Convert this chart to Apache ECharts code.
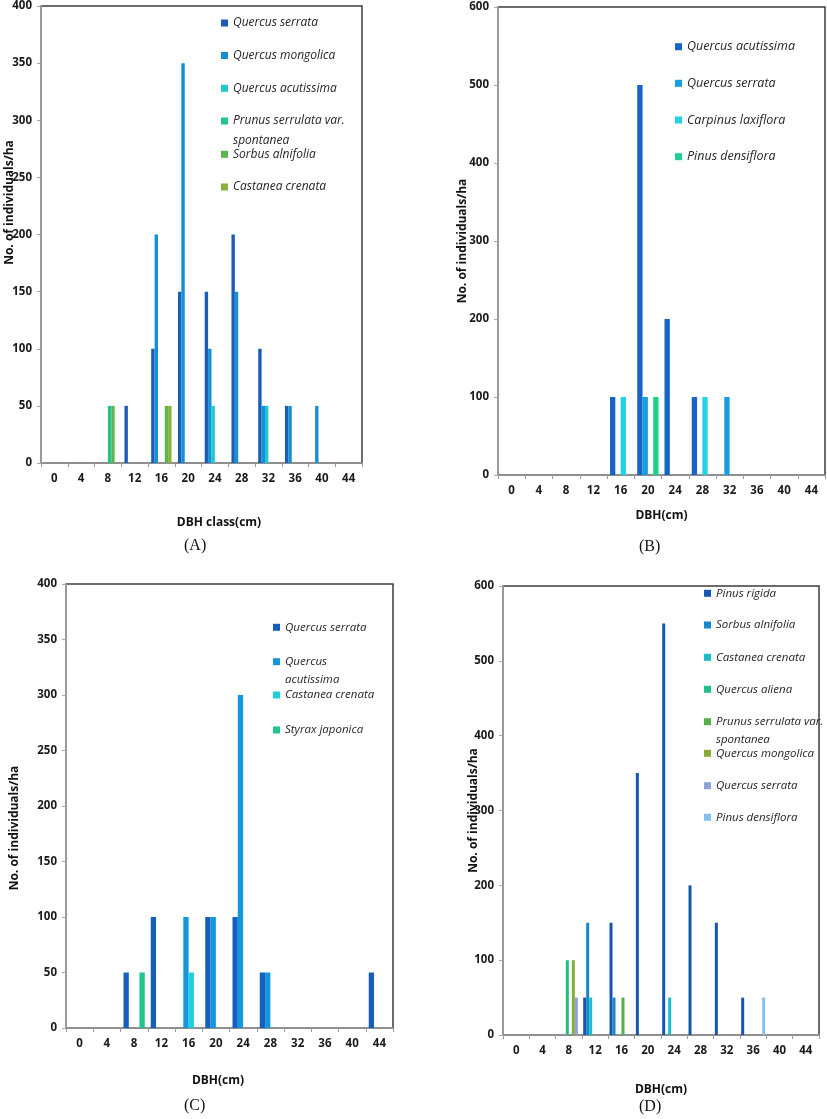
<!DOCTYPE html>
<html>
<head>
<meta charset="utf-8">
<script src="https://cdn.jsdelivr.net/npm/echarts@6/dist/echarts.min.js"></script>
<style>
  html, body { margin: 0; padding: 0; background: #fff; }
  #chart { width: 827px; height: 1119px; }
</style>
</head>
<body>
<div id="chart"></div>
<script>
// ---- data ----
const dbhClasses = ['0','4','8','12','16','20','24','28','32','36','40','44'];

// Panel A
const speciesA = ['Quercus serrata','Quercus mongolica','Quercus acutissima','Prunus serrulata var. spontanea','Sorbus alnifolia','Castanea crenata'];
const labelsA  = ['Quercus serrata','Quercus mongolica','Quercus acutissima','Prunus serrulata var.\nspontanea','Sorbus alnifolia','Castanea crenata'];
const valuesA = [
  [0,0,0,50,100,150,150,200,100,50,0,0],
  [0,0,0,0,200,350,100,150,50,50,50,0],
  [0,0,0,0,0,0,50,0,50,0,0,0],
  [0,0,50,0,0,0,0,0,0,0,0,0],
  [0,0,50,0,50,0,0,0,0,0,0,0],
  [0,0,0,0,50,0,0,0,0,0,0,0]
];
const colorsA = ['#1a5cb8','#1590d4','#1ec6d6','#22c48a','#5db54e','#8cae3a'];

// Panel B
const speciesB = ['Quercus acutissima','Quercus serrata','Carpinus laxiflora','Pinus densiflora'];
const labelsB  = speciesB;
const valuesB = [
  [0,0,0,0,100,500,200,100,0,0,0,0],
  [0,0,0,0,0,100,0,0,100,0,0,0],
  [0,0,0,0,100,0,0,100,0,0,0,0],
  [0,0,0,0,0,100,0,0,0,0,0,0]
];
const colorsB = ['#1564c6','#179ee0','#20d2e2','#1ed08e'];

// Panel C
const speciesC = ['Quercus serrata','Quercus acutissima','Castanea crenata','Styrax japonica'];
const labelsC  = ['Quercus serrata','Quercus\nacutissima','Castanea crenata','Styrax japonica'];
const valuesC = [
  [0,0,50,100,0,100,100,50,0,0,0,50],
  [0,0,0,0,100,100,300,50,0,0,0,0],
  [0,0,0,0,50,0,0,0,0,0,0,0],
  [0,0,50,0,0,0,0,0,0,0,0,0]
];
const colorsC = ['#1560be','#1496dc','#1fd0dc','#20c48c'];

// Panel D
const speciesD = ['Pinus rigida','Sorbus alnifolia','Castanea crenata','Quercus aliena','Prunus serrulata var. spontanea','Quercus mongolica','Quercus serrata','Pinus densiflora'];
const labelsD  = ['Pinus rigida','Sorbus alnifolia','Castanea crenata','Quercus aliena','Prunus serrulata var.\nspontanea','Quercus mongolica','Quercus serrata','Pinus densiflora'];
const valuesD = [
  [0,0,0,50,150,350,550,200,150,50,0,0],
  [0,0,0,150,50,0,0,0,0,0,0,0],
  [0,0,0,50,0,0,50,0,0,0,0,0],
  [0,0,100,0,0,0,0,0,0,0,0,0],
  [0,0,0,0,50,0,0,0,0,0,0,0],
  [0,0,100,0,0,0,0,0,0,0,0,0],
  [0,0,50,0,0,0,0,0,0,0,0,0],
  [0,0,0,0,0,0,0,0,0,50,0,0]
];
const colorsD = ['#1556b2','#1787cc','#1cbcc8','#1fbf85','#55b04a','#8aab38','#8ca2da','#84c0ee'];

// ---- layout ----
const panels = [
  { key:'A', species:speciesA, labels:labelsA, values:valuesA, colors:colorsA,
    grid:{left:41, top:5, width:321, height:458}, ymax:400, yint:50, gap:'24%',
    xName:'DBH class(cm)', xGap:54, xPad:[0,0,0,35], yGap:25, yPad:[0,0,0,64], legFont:12,
    legLeft:221, legY:[23,55.5,88.3,121,154.3,187], legLH:20, cap:'(A)', capX:196, capY:548 },
  { key:'B', species:speciesB, labels:labelsB, values:valuesB, colors:colorsB,
    grid:{left:498, top:7, width:327, height:468}, ymax:600, yint:100, gap:'22%',
    xName:'DBH(cm)', xGap:35, xPad:[0,0,0,0], yGap:29, yPad:[0,0,0,0], legFont:12.5,
    legLeft:675, legY:[46.7,83.3,120,156.7], legLH:20, cap:'(B)', capX:651, capY:549 },
  { key:'C', species:speciesC, labels:labelsC, values:valuesC, colors:colorsC,
    grid:{left:66, top:584, width:327, height:444}, ymax:400, yint:50, gap:'22%',
    xName:'DBH(cm)', xGap:47, xPad:[0,23,0,0], yGap:45, yPad:[0,44,0,0], legFont:11.5,
    legLeft:273, legY:[627.3,661.7,695,730], legLH:17.6, cap:'(C)', capX:196, capY:1108 },
  { key:'D', species:speciesD, labels:labelsD, values:valuesD, colors:colorsD,
    grid:{left:503, top:586, width:316, height:449}, ymax:600, yint:100, gap:'9%',
    xName:'DBH(cm)', xGap:49, xPad:[0,0,0,0], yGap:23, yPad:[0,0,0,0], legFont:11.5,
    legLeft:704, legY:[593.3,625,657.3,689.3,721.7,753.3,785.7,817.3], legLH:18.3, cap:'(D)', capX:651, capY:1109 }
];

const tickFont = { fontFamily:'Open Sans', fontWeight:'bold', fontSize:11.5, color:'#1a1a1a' };
const titleFont = { fontFamily:'Open Sans', fontWeight:'bold', fontSize:12, color:'#111' };

const option = {
  animation:false,
  backgroundColor:'#ffffff',
  grid:[], xAxis:[], yAxis:[], series:[], legend:[], graphic:[]
};

panels.forEach((p, pi) => {
  option.grid.push(Object.assign({ show:true, borderColor:'#3c3c3c', borderWidth:1.5, backgroundColor:'transparent' }, p.grid));
  option.xAxis.push({
    type:'category', gridIndex:pi, data:dbhClasses,
    axisLine:{ show:true, lineStyle:{ color:'#9a9a9a', width:1.5 } },
    axisTick:{ show:true, length:4, lineStyle:{ color:'#9a9a9a' } },
    axisLabel:Object.assign({ margin:10 }, tickFont),
    splitLine:{ show:false },
    name:p.xName, nameLocation:'middle', nameGap:p.xGap, nameMoveOverlap:false,
    nameTextStyle:Object.assign({ padding:p.xPad }, titleFont)
  });
  option.yAxis.push({
    type:'value', gridIndex:pi, min:0, max:p.ymax, interval:p.yint,
    axisLine:{ show:true, lineStyle:{ color:'#a8a8a8', width:1.5 } },
    axisTick:{ show:true, length:4, lineStyle:{ color:'#a8a8a8' } },
    axisLabel:Object.assign({ margin:9 }, tickFont),
    splitLine:{ show:false },
    name:'No. of individuals/ha', nameLocation:'middle', nameRotate:90, nameGap:p.yGap, nameMoveOverlap:false,
    nameTextStyle:Object.assign({ padding:p.yPad }, titleFont)
  });
  p.species.forEach((sp, si) => {
    const sName = p.key + ': ' + sp;
    option.series.push({
      type:'bar', name:sName, xAxisIndex:pi, yAxisIndex:pi,
      data:p.values[si], barGap:'0%', barCategoryGap:p.gap,
      itemStyle:{ color:p.colors[si] }
    });
    const label = p.labels[si];
    const multi = label.indexOf('\n') >= 0;
    const lh = multi ? p.legLH : 15;
    const nLines = multi ? 3 : 1;
    option.legend.push({
      data:[sName], orient:'vertical', left:p.legLeft,
      top: p.legY[si] - nLines * lh / 2,
      padding:0, itemWidth:7, itemHeight:7, itemGap:5, selectedMode:false,
      icon:'rect',
      formatter: () => multi ? '\n' + label : label,
      textStyle:{ fontFamily:'Open Sans', fontStyle:'italic', fontSize:p.legFont, color:'#262626', lineHeight:lh }
    });
  });
  option.graphic.push({
    type:'text', left:p.capX - 12, top:p.capY - 10,
    style:{ text:p.cap, font:'16px "Liberation Serif", "DejaVu Serif", serif', fill:'#111' }
  });
});

const chart = echarts.init(document.getElementById('chart'), null, { renderer:'canvas' });
chart.setOption(option);
</script>
</body>
</html>
